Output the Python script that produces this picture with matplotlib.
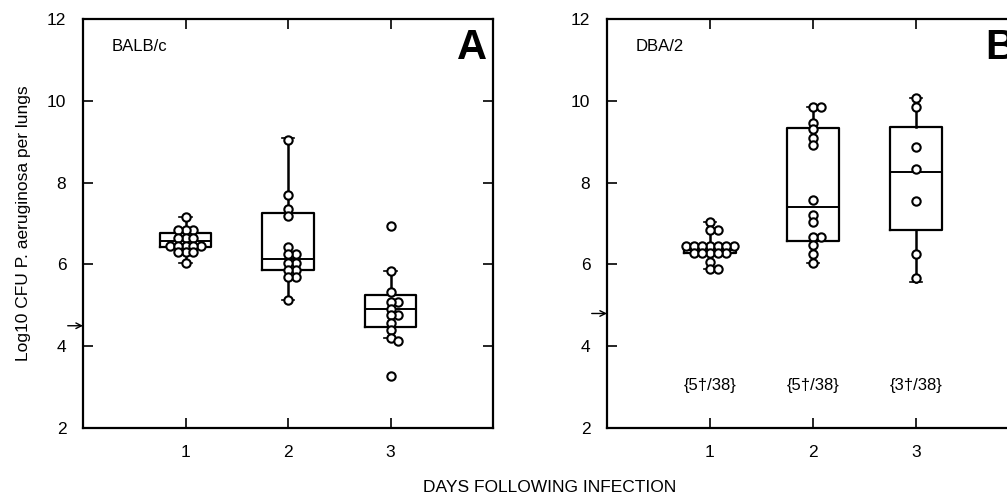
import numpy as np
import matplotlib
matplotlib.use("Agg")
import matplotlib.pyplot as plt

plt.rcParams["font.family"] = ["Liberation Sans", "DejaVu Sans"]

# ---------------------------------------------------------------------------
# Data (log10 CFU per lungs)
# ---------------------------------------------------------------------------
days = [1, 2, 3]

balb_day1 = [7.15, 6.85, 6.85, 6.85, 6.65, 6.65, 6.65, 6.45, 6.45, 6.45,
             6.45, 6.45, 6.3, 6.3, 6.3, 6.03]
balb_day2 = [9.05, 7.7, 7.35, 7.18, 6.43, 6.25, 6.25, 6.04, 6.04, 5.87,
             5.87, 5.7, 5.7, 5.12]
balb_day3 = [6.94, 5.84, 5.32, 5.08, 5.08, 4.92, 4.76, 4.76, 4.57, 4.4,
             4.2, 4.13, 3.27]

dba_day1 = [7.04, 6.83, 6.83, 6.45, 6.45, 6.45, 6.45, 6.45, 6.45, 6.45,
            6.28, 6.28, 6.28, 6.28, 6.28, 6.05, 5.88, 5.88]
dba_day2 = [9.85, 9.85, 9.46, 9.3, 9.1, 8.92, 7.58, 7.2, 7.04, 6.67,
            6.67, 6.48, 6.25, 6.04]
dba_day3 = [10.07, 9.85, 8.88, 8.33, 7.55, 6.25, 5.67]

# box summaries (whisker low, q1, median, q3, whisker high)
balb_wlo = [6.03, 5.12, 4.2]
balb_q1 = [6.43, 5.86, 4.47]
balb_med = [6.57, 6.13, 4.91]
balb_q3 = [6.77, 7.26, 5.25]
balb_whi = [7.15, 9.09, 5.84]

dba_wlo = [5.88, 6.04, 5.57]
dba_q1 = [6.28, 6.57, 6.84]
dba_med = [6.35, 7.4, 8.26]
dba_q3 = [6.45, 9.34, 9.36]
dba_whi = [7.04, 9.85, 10.07]

balb_limit = 4.5
dba_limit = 4.8
dba_deaths = ["{5\u2020/38}", "{5\u2020/38}", "{3\u2020/38}"]

# ---------------------------------------------------------------------------
# Helpers
# ---------------------------------------------------------------------------

def swarm_offsets(values, dx=0.078, dy=0.15):
    """Place equal / close values side by side, overlapping a little."""
    order = np.argsort(values)[::-1]
    placed = []
    offsets = np.zeros(len(values))
    for idx in order:
        v = values[idx]
        for k in range(0, 40):
            cand = (k + 1) // 2 * 0.5 * dx * (1 if k % 2 else -1) if k else 0.0
            ok = all(((cand - px) / dx) ** 2 + ((v - py) / dy) ** 2 >= 0.9
                     for px, py in placed)
            if ok:
                break
        placed.append((cand, v))
        offsets[idx] = cand
    return offsets


def draw_panel(ax, groups, wlo, q1, med, q3, whi, strain, letter, limit, letter_x, letter_ha):
    stats = []
    for i in range(len(days)):
        stats.append(dict(whislo=wlo[i], q1=q1[i], med=med[i], q3=q3[i],
                          whishi=whi[i], fliers=[]))
    ax.bxp(stats, positions=days, widths=0.5, showfliers=False, capwidths=0.12,
           boxprops=dict(color="black", lw=1.6),
           medianprops=dict(color="black", lw=1.4),
           whiskerprops=dict(color="black", lw=1.8),
           capprops=dict(color="black", lw=1.2))

    for day, vals in zip(days, groups):
        vals = np.asarray(vals)
        xs = day + swarm_offsets(vals)
        ax.scatter(xs, vals, s=36, facecolor="white", edgecolor="black",
                   linewidth=1.5, zorder=5)

    ax.set_xlim(0, 4)
    ax.set_ylim(2, 12)
    ax.set_xticks(days)
    ax.set_yticks([2, 4, 6, 8, 10, 12])
    ax.tick_params(direction="in", top=True, right=True, length=7, width=1.2,
                   labelsize=12.5, pad=12)
    for sp in ax.spines.values():
        sp.set_linewidth(1.6)

    ax.text(0.07, 0.932, strain, transform=ax.transAxes, fontsize=12,
            ha="left", va="center")
    ax.text(letter_x, 0.978, letter, transform=ax.transAxes, fontsize=30,
            fontweight="bold", ha=letter_ha, va="top")

    ax.annotate("", xy=(0, limit), xycoords=("axes fraction", "data"),
                xytext=(-11, 0), textcoords="offset points",
                arrowprops=dict(arrowstyle="->", color="black", lw=1.0,
                                shrinkA=0, shrinkB=0),
                annotation_clip=False)


# ---------------------------------------------------------------------------
# Figure
# ---------------------------------------------------------------------------
fig = plt.figure(figsize=(10.07, 4.97), dpi=100)
W, H = 1007, 497
axA = fig.add_axes([83 / W, 69 / H, 410 / W, 409 / H])
axB = fig.add_axes([607 / W, 69 / H, 412 / W, 409 / H])

draw_panel(axA, [balb_day1, balb_day2, balb_day3], balb_wlo, balb_q1, balb_med,
           balb_q3, balb_whi, "BALB/c", "A", balb_limit, 0.985, "right")
draw_panel(axB, [dba_day1, dba_day2, dba_day3], dba_wlo, dba_q1, dba_med,
           dba_q3, dba_whi, "DBA/2", "B", dba_limit, 0.917, "left")

for day, lab in zip(days, dba_deaths):
    axB.text(day, 3.05, lab, fontsize=12, ha="center", va="center")

fig.text(24 / W, 1 - 223 / H, "Log10 CFU P. aeruginosa per lungs", rotation=90,
         fontsize=12.5, ha="center", va="center")
fig.text(550 / W, 1 - 487 / H, "DAYS FOLLOWING INFECTION", fontsize=12.5,
         ha="center", va="center")

fig.savefig("out.png", dpi=100)
